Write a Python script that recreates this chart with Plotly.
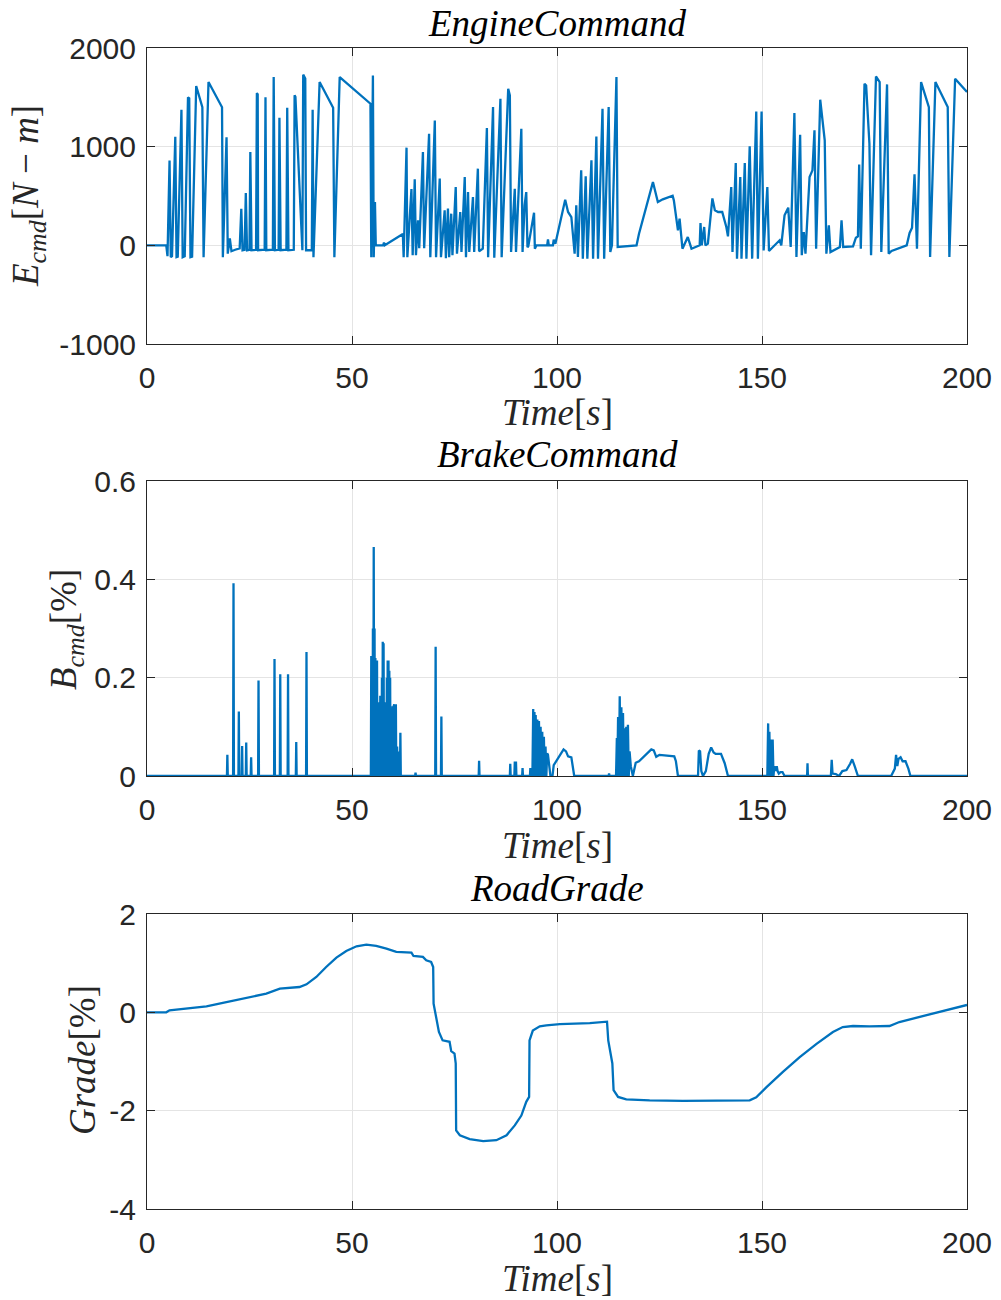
import plotly.graph_objects as go

# ---------------- data ----------------
engine_t = [0, 4.7, 5.0, 5.5, 5.8, 6.1, 6.9, 7.2, 7.5, 8.4, 8.7, 9.2, 10.0, 10.3, 10.6, 11.0, 12.0, 13.5, 13.8,
            15.0, 18.3, 18.5, 19.4, 19.7, 20.2, 20.6, 21.5, 22.6, 23.0, 23.3, 23.8, 24.1, 24.4, 25.0, 25.2, 25.5,
            26.6, 26.8, 27.0, 27.1, 28.7, 28.9, 29.1, 30.7, 30.9, 31.2, 32.1, 32.3, 32.6, 34.0, 34.2, 34.5,
            35.8, 36.0, 36.2, 37.9, 38.1, 38.6, 38.8, 40.2, 40.4, 40.6, 42.1, 45.4, 45.7, 47.0, 54.5, 54.7,
            55.1, 55.3, 55.6, 55.8, 57.6, 57.8, 58.0, 62.4, 62.6, 63.3, 63.5, 64.5, 64.8, 65.3, 65.6, 66.1,
            66.4, 67.3, 67.6, 68.8, 69.1, 70.2, 70.5, 71.4, 71.7, 72.6, 72.9, 73.4, 73.7, 74.2, 74.5, 75.3,
            75.6, 76.4, 76.7, 77.5, 77.8, 78.3, 78.6, 79.5, 79.8, 80.7, 81.0, 81.9, 82.9, 83.2, 84.4, 84.7,
            86.2, 86.5, 88.1, 88.5, 88.8, 89.7, 90.0, 91.3, 91.6, 92.1, 92.5, 92.8, 93.0, 94.4, 94.6, 95.0,
            97.6, 97.8, 98.0, 99.0, 99.2, 99.6, 102.0, 102.7, 103.5, 103.9, 104.3, 104.7, 105.1, 105.9, 106.3,
            107.0, 107.4, 108.4, 108.8, 109.6, 110.0, 111.1, 111.5, 112.6, 113.0, 113.4, 114.5, 114.8, 119.4,
            120.0, 123.4, 124.6, 125.8, 128.2, 128.5, 129.5, 129.9, 130.6, 131.9, 132.8, 134.8, 135.0, 135.3,
            135.9, 136.2, 136.8, 137.9, 138.5, 139.3, 140.3, 141.3, 141.7, 142.5, 142.8, 143.6, 143.9, 144.7,
            145.0, 145.8, 146.2, 147.0, 147.6, 148.6, 149.0, 149.9, 150.4, 151.3, 151.7, 154.3, 154.7, 155.5,
            156.4, 157.0, 157.9, 158.4, 159.3, 159.7, 160.2, 160.6, 161.6, 162.3, 162.8, 163.2, 164.2, 165.3,
            165.7, 166.3, 166.7, 169.0, 169.4, 169.8, 172.2, 172.9, 173.4, 173.7, 174.1, 175.0, 175.4, 176.2,
            176.6, 177.8, 178.7, 179.1, 180.5, 180.9, 181.6, 185.3, 186.0, 186.6, 187.2, 187.8, 188.8, 190.7,
            191.0, 192.3, 195.3, 195.7, 197.1, 200.0]
engine_v = [0, 0, -110, 860, -120, -110, 1100, -120, -115, 1375, -120, -110, 1500, 1490, -120, -115, 1615, 1400, -120,
            1655, 1400, -120, 1095, -85, 70, -60, -45, -30, 370, -50, -45, 530, -50, -45, 945, -50,
            -45, 1543, 1530, -50, -45, 1500, -50, -45, 1705, -50, -45, 1293, -50, -45, 1395, -50,
            -45, 1520, 1505, -50, 1730, 1690, -50, -50, 1374, -120, 1655, 1395, -120, 1705, 1435, -120,
            1720, -120, 440, 0, 0, 27, 0, 115, -120, 990, -120, 570, -100, 670, -100, 253,
            -30, 945, -30, 1131, -120, 1266, -120, 676, -120, 355, -130, 372, -120, 321, -100, 591,
            -85, 338, -68, 692, -120, 540, -68, 490, -68, 777, -60, -34, 1188, -120, 1401, -125,
            1486, -120, 1587, 1520, -68, 574, -68, 1182, -68, 405, 540, -20, -10, 331, -34, 0,
            0, 61, 0, 0, 57, 15, 463, 338, 287, 125, -84, 405, -118, 760, -135,
            700, -135, 861, -135, 1104, -135, 1384, -135, 1401, -68, 0, 1705, -17, 0,
            118, 641, 439, 466, 503, 456, 152, 270, -34, 84, -34, 0, 226, 0,
            186, 0, 17, 476, 355, 338, 338, 186, 91, 591, -68, 834, -135, 692,
            -135, 834, -135, 1003, -135, 1357, -135, 1357, -51, 591, -57, 51, 0, 304,
            382, -17, 1340, -118, 1121, -100, 135, -84, 692, 760, 1165, -34, 1476, 1064,
            -84, 202, -68, -17, 253, -17, -10, 77, 91, 820, -34, 1638, 1621, 1030,
            -101, 1712, 1655, -68, 1631, -84, -57, 0, 125, 179, 719, -34, 1655, 1401,
            -118, 1655, 1401, -118, 1688, 1553]

brake_t = [0, 19.5, 19.6, 19.7, 21.0, 21.1, 21.2, 22.3, 22.4, 22.5, 23.1, 23.2, 23.3, 24.1, 24.2, 24.3,
           25.3, 25.4, 25.5, 27.1, 27.2, 27.3, 31.0, 31.1, 31.2, 32.4, 32.5, 32.6, 34.3, 34.4, 34.5,
           36.3, 36.4, 36.5, 38.8, 38.9, 39.0,
           54.6, 54.7, 54.8, 54.9, 55.0, 55.1, 55.2, 55.3, 55.4, 55.5, 55.6, 55.7, 55.8, 55.9, 56.0, 56.1,
           56.2, 56.3, 56.4, 56.5, 56.6, 56.7, 56.8, 56.9, 57.0, 57.1, 57.2, 57.3, 57.4, 57.5, 57.6, 57.7,
           57.8, 57.9, 58.0, 58.1, 58.2, 58.3, 58.4, 58.5, 58.6, 58.7, 58.8, 58.9, 59.0, 59.1, 59.2, 59.3,
           59.4, 59.5, 59.6, 59.7, 59.8, 59.9, 60.0, 60.1, 60.3, 60.5, 60.7, 60.8, 61.0, 61.2, 61.5, 61.7,
           61.8, 61.9, 65.4, 65.5, 65.6, 70.3, 70.4, 70.5, 71.7, 71.8, 71.9, 80.9, 81.0, 81.1, 88.5, 88.6,
           88.7, 89.6, 89.7, 90.0, 90.1, 91.5, 91.6, 91.7, 93.4, 93.5, 93.7,
           94.0, 94.2, 94.3, 94.5, 94.7, 94.8, 95.0, 95.2, 95.4, 95.6, 95.8, 96.0, 96.2, 96.4, 96.6, 96.8,
           97.0, 97.2, 97.4, 97.6, 97.8, 98.4, 98.9, 99.2, 100.5, 101.6, 102.2, 102.7, 103.5, 104.2,
           112.6, 112.7, 112.8, 114.4, 114.6, 114.7, 114.9, 115.1, 115.3, 115.5, 115.7, 115.9, 116.1, 116.3,
           116.5, 116.7, 116.9, 117.1, 117.3, 117.5, 117.7, 118.0, 118.5, 119.2, 120.0, 123.0, 123.6,
           124.2, 125.0, 126.5, 128.6, 129.0, 129.5,
           134.4, 134.6, 134.9, 135.2, 135.6, 136.3, 137.0, 137.6, 138.2, 138.7, 140.0, 140.9, 141.7,
           151.3, 151.5, 151.6, 151.8, 152.0, 152.2, 152.4, 152.6, 152.8, 153.0, 153.3, 153.6, 153.8,
           154.1, 154.5, 155.0, 155.5, 161.0, 161.1, 161.2, 166.8, 167.0, 167.2, 168.0, 168.8, 169.6,
           170.6, 171.5, 172.0, 172.6, 173.4, 181.5, 182.4, 182.7, 183.0, 183.3, 183.8, 184.3, 185.0,
           185.7, 186.2, 200.0]
brake_v = [0, 0, 0.043, 0, 0, 0.392, 0, 0, 0.131, 0, 0, 0.061, 0, 0, 0.068, 0,
           0, 0.038, 0, 0, 0.194, 0, 0, 0.238, 0, 0, 0.207, 0, 0, 0.207, 0,
           0, 0.069, 0, 0, 0.252, 0,
           0, 0.244, 0, 0.244, 0, 0.30, 0, 0.466, 0, 0.30, 0, 0.24, 0, 0.235, 0, 0.235,
           0, 0.12, 0, 0.114, 0, 0.15, 0, 0.163, 0, 0.14, 0, 0.20, 0, 0.273, 0, 0.27,
           0, 0.12, 0, 0.087, 0, 0.15, 0, 0.20, 0, 0.235, 0, 0.235, 0, 0.214, 0, 0.20,
           0, 0.093, 0, 0.12, 0, 0.142, 0, 0.14, 0.146, 0, 0.146, 0, 0.06, 0, 0.05, 0,
           0.088, 0, 0, 0.007, 0, 0, 0.263, 0, 0, 0.121, 0, 0, 0.031, 0, 0, 0.025,
           0, 0, 0.027, 0.027, 0, 0, 0.016, 0, 0, 0.016, 0,
           0, 0.136, 0, 0.13, 0, 0.124, 0, 0.115, 0, 0.112, 0, 0.10, 0, 0.09, 0, 0.08,
           0, 0.06, 0, 0.046, 0.043, 0, 0, 0.022, 0.039, 0.054, 0.05, 0.04, 0.038, 0,
           0, 0.005, 0, 0, 0.077, 0, 0.12, 0, 0.162, 0, 0.14, 0, 0.128, 0,
           0.097, 0, 0.10, 0, 0.104, 0, 0.05, 0.02, 0, 0.027, 0.03, 0.054, 0.052,
           0.039, 0.043, 0.042, 0.04, 0.03, 0,
           0, 0.052, 0.05, 0.01, 0, 0.01, 0.045, 0.058, 0.048, 0.045, 0.045, 0.026, 0,
           0, 0.107, 0, 0.09, 0, 0.074, 0, 0.074, 0, 0.02, 0.01, 0.02, 0.01,
           0.005, 0.008, 0.008, 0, 0, 0.026, 0, 0, 0.033, 0.005, 0.004, 0, 0.01,
           0.012, 0.025, 0.034, 0.02, 0, 0, 0.015, 0.043, 0.02, 0.035, 0.038, 0.03, 0.03,
           0.015, 0, 0]

grade_t = [0, 4.7, 5.5, 10.4, 14.5, 18.5, 22.6, 26.7, 29.1, 32.4, 34.8, 37.2, 38.9, 41.3, 43.7, 46.2,
           48.6, 51.1, 53.5, 55.9, 58.4, 60.8, 64.5, 65.0, 67.3, 68.1, 69.3, 69.8, 69.9, 70.3, 70.8,
           71.2, 72.1, 73.8, 74.2, 75.0, 75.3, 75.4, 76.3, 78.7, 82.0, 85.2, 87.7, 89.7, 91.3, 92.5,
           93.2, 93.3, 94.1, 95.8, 97.4, 100.7, 108.0, 112.2, 112.5, 113.5, 113.8, 114.9, 116.9, 122.6,
           130.7, 138.9, 147.0, 148.6, 151.1, 155.1, 159.2, 163.3, 167.3, 169.7, 172.2, 176.2, 181.1,
           183.5, 187.6, 191.7, 195.7, 200.0]
grade_v = [0, 0, 0.04, 0.088, 0.122, 0.19, 0.264, 0.326, 0.38, 0.482, 0.502, 0.515, 0.57, 0.719, 0.922,
           1.112, 1.248, 1.343, 1.377, 1.35, 1.296, 1.228, 1.214, 1.146, 1.126, 1.058, 1.024, 0.922,
           0.176, -0.027, -0.197, -0.4, -0.57, -0.6, -0.79, -0.84, -1.04, -2.4, -2.5, -2.58, -2.62,
           -2.6, -2.5, -2.3, -2.1, -1.82, -1.72, -0.57, -0.37, -0.285, -0.264, -0.24, -0.22, -0.19,
           -0.57, -1.04, -1.58, -1.72, -1.77, -1.79, -1.8, -1.8, -1.79, -1.73, -1.52, -1.21, -0.91,
           -0.64, -0.4, -0.3, -0.278, -0.285, -0.278, -0.197, -0.108, -0.027, 0.061, 0.15]

x_ticks = [0, 50, 100, 150, 200]
y1_ticks = [-1000, 0, 1000, 2000]
y1_text = ["-1000", "0", "1000", "2000"]
y2_ticks = [0, 0.2, 0.4, 0.6]
y2_text = ["0", "0.2", "0.4", "0.6"]
y3_ticks = [-4, -2, 0, 2]
y3_text = ["-4", "-2", "0", "2"]

titles = ["<i>EngineCommand</i>", "<i>BrakeCommand</i>", "<i>RoadGrade</i>"]
x_label = "<i>Time</i>[<i>s</i>]"
y_labels = ["<i>E</i><sub><i>cmd</i></sub>[<i>N</i> − <i>m</i>]",
            "<i>B</i><sub><i>cmd</i></sub>[%]",
            "<i>Grade</i>[%]"]

# ---------------- figure ----------------
W, H = 1001, 1300
L, R, T, B = 147, 34, 48, 91
PH = H - T - B
LINE = "#0072BD"
AX = "#262626"


def py(px):
    return (H - B - px) / PH


def pxx(px):
    return (px - L) / (W - L - R)


fig = go.Figure()
fig.add_trace(go.Scatter(x=engine_t, y=engine_v, mode="lines", line=dict(color=LINE, width=2.3),
                         xaxis="x", yaxis="y", showlegend=False))
fig.add_trace(go.Scatter(x=brake_t, y=brake_v, mode="lines", line=dict(color=LINE, width=2.3),
                         xaxis="x2", yaxis="y2", showlegend=False))
fig.add_trace(go.Scatter(x=grade_t, y=grade_v, mode="lines", line=dict(color=LINE, width=2.3),
                         xaxis="x3", yaxis="y3", showlegend=False))

tickfont = dict(family="Liberation Sans, Arial, sans-serif", size=30, color=AX)
common = dict(showline=True, linecolor=AX, linewidth=1, mirror="ticks", ticks="inside", ticklen=8,
              tickwidth=1, tickcolor=AX, showgrid=True, gridcolor="#e4e4e4", gridwidth=1,
              zeroline=False, tickfont=tickfont, fixedrange=True, automargin=False)

domains = [(py(344), py(48)), (py(776), py(481)), (py(1209), py(914))]
yticks = [(y1_ticks, y1_text, [-1000, 2000]), (y2_ticks, y2_text, [0, 0.6]), (y3_ticks, y3_text, [-4, 2])]

layout = dict(width=W, height=H, margin=dict(l=L, r=R, t=T, b=B, autoexpand=False),
              paper_bgcolor="white", plot_bgcolor="white", showlegend=False)
for i in range(3):
    sx = "" if i == 0 else str(i + 1)
    layout["xaxis" + sx] = dict(common, domain=[0, 1], anchor="y" + sx, range=[0, 200],
                                tickvals=x_ticks, ticklabelstandoff=7)
    tv, tt, rg = yticks[i]
    layout["yaxis" + sx] = dict(common, domain=list(domains[i]), anchor="x" + sx, range=rg,
                                tickvals=tv, ticktext=tt, ticklabelstandoff=4)
fig.update_layout(**layout)

serif = "Liberation Serif, Times New Roman, serif"
title_y = [23, 455, 888]
xlabel_y = [412, 845, 1278]
ylabel_pos = [(28, 196), (67, 630), (82, 1060)]
for i in range(3):
    fig.add_annotation(text=titles[i], x=0.5, y=py(title_y[i]), xref="paper", yref="paper",
                       xanchor="center", yanchor="middle", showarrow=False,
                       font=dict(family=serif, size=37, color="#000000"))
    fig.add_annotation(text=x_label, x=0.5, y=py(xlabel_y[i]), xref="paper", yref="paper",
                       xanchor="center", yanchor="middle", showarrow=False,
                       font=dict(family=serif, size=37, color=AX))
    fig.add_annotation(text=y_labels[i], x=pxx(ylabel_pos[i][0]), y=py(ylabel_pos[i][1]),
                       xref="paper", yref="paper", xanchor="center", yanchor="middle",
                       showarrow=False, textangle=-90,
                       font=dict(family=serif, size=37, color=AX))

fig.write_html("out.html")
